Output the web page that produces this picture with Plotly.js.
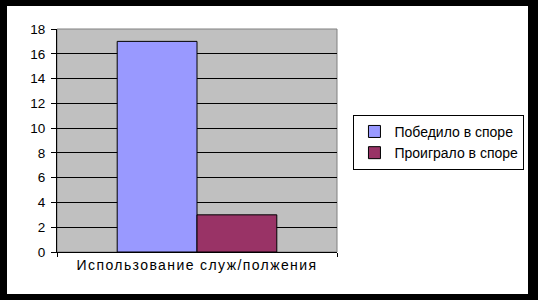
<!DOCTYPE html>
<html>
<head>
<meta charset="utf-8">
<script src="https://cdn.plot.ly/plotly-3.0.1.min.js"></script>
<style>
  html, body { margin: 0; padding: 0; background: #000; width: 538px; height: 300px; overflow: hidden; }
  #chart { position: absolute; left: 7px; top: 6px; width: 521px; height: 288px; background: #fff; }
  #chart .xtick text { letter-spacing: 1.4px; }
</style>
</head>
<body>
<div id="chart"></div>
<script>
const categories = ["Использование служ/полжения"];
const seriesNames = ["Победило в споре", "Проиграло в споре"];
const wonValues = [17];
const lostValues = [3];
const seriesColors = ["#9999ff", "#993366"];
const yTickValues = [0, 2, 4, 6, 8, 10, 12, 14, 16, 18];

const font = {family: "Liberation Sans, Arial, sans-serif", color: "#000"};

const traces = [
  {type: "bar", name: seriesNames[0], x: categories, y: wonValues,
   marker: {color: seriesColors[0], line: {color: "#000", width: 1}}, hoverinfo: "none"},
  {type: "bar", name: seriesNames[1], x: categories, y: lostValues,
   marker: {color: seriesColors[1], line: {color: "#000", width: 1}}, hoverinfo: "none"}
];

const layout = {
  width: 521, height: 288,
  margin: {l: 50, r: 191, t: 23, b: 42, autoexpand: false},
  paper_bgcolor: "#fff",
  plot_bgcolor: "#c0c0c0",
  barmode: "group",
  bargap: 0.43,
  bargroupgap: 0,
  showlegend: true,
  font: Object.assign({size: 13}, font),
  xaxis: {
    type: "category",
    tickson: "boundaries",
    ticks: "outside", ticklen: 4, tickcolor: "#000", tickwidth: 1,
    showline: true, linecolor: "#000", linewidth: 1,
    showgrid: false, zeroline: false,
    tickfont: Object.assign({size: 14}, font),
    automargin: false,
    fixedrange: true
  },
  yaxis: {
    range: [0, 18],
    tickvals: yTickValues,
    ticktext: yTickValues.map(String),
    ticks: "outside", ticklen: 5, tickcolor: "#000", tickwidth: 1,
    showline: true, linecolor: "#000", linewidth: 1,
    showgrid: true, gridcolor: "#000", gridwidth: 1,
    zeroline: false,
    tickfont: Object.assign({size: 13.5}, font),
    ticklabelstandoff: 3,
    automargin: false,
    fixedrange: true
  },
  shapes: [{
    type: "rect", xref: "paper", yref: "paper", x0: 0, x1: 1, y0: 0, y1: 1,
    line: {color: "#808080", width: 1}, fillcolor: "rgba(0,0,0,0)", layer: "below"
  }],
  legend: {
    xref: "container", yref: "container",
    x: 0.665, xanchor: "left",
    y: 0.622, yanchor: "top",
    bgcolor: "#fff", bordercolor: "#000", borderwidth: 1,
    font: Object.assign({size: 14}, font),
    tracegroupgap: 0,
    itemwidth: 30
  }
};

Plotly.newPlot("chart", traces, layout, {displayModeBar: false, staticPlot: true});
</script>
</body>
</html>
